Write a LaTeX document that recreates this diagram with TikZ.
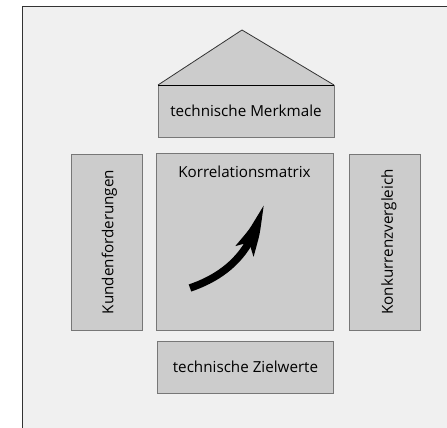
\documentclass[tikz,border=0pt]{standalone}
\usepackage{fontspec}
\setmainfont{Open Sans}
\usetikzlibrary{arrows.meta,bending,shapes.geometric}
\definecolor{panel}{HTML}{F0F0F0}
\definecolor{boxfill}{HTML}{CCCCCC}
\definecolor{boxline}{HTML}{777777}
\definecolor{frameline}{HTML}{333333}
\begin{document}
\begin{tikzpicture}[x=1pt,y=-1pt,
  label font/.style={font=\fontsize{15.2}{17}\selectfont},
  block/.style={draw=boxline,fill=boxfill,line width=0.9pt,inner sep=0pt,label font},
  wide/.style={block,minimum width=176pt,minimum height=52pt},
  tall/.style={block,minimum width=71pt,minimum height=176pt},
  vlabel/.style={rotate=90,label font}]
  \useasboundingbox (0,0) rectangle (447,428);
  % outer panel
  \fill[panel] (22.5,6.5) rectangle (447,428);
  \draw[frameline,line width=1.4pt] (22.5,428) -- (22.5,6.5) -- (447,6.5);

  % roof
  \coordinate (roofL) at (158,85);
  \coordinate (roofR) at (334,85);
  \coordinate (apex) at (242,30);
  \fill[boxfill] (roofL) -- (apex) -- (roofR) -- cycle;
  \draw[frameline,line width=0.8pt] (roofL) -- (apex) -- (roofR);

  % boxes
  \node[wide] (merkmale) at (246,111) {technische Merkmale};
  \draw[black,line width=1pt] (roofL) -- (roofR);
  \node[block,minimum width=177pt,minimum height=177pt] (matrix) at (244.5,241.5) {};
  \node[label font] (mtitle) at (matrix.north) [yshift=-19pt] {Korrelationsmatrix};
  \node[tall] (kunden) at (106.5,242) {};
  \node[vlabel] (kundentext) at (kunden.center) [yshift=-3pt] {Kundenforderungen};
  \node[tall] (konkurrenz) at (385,242) {};
  \node[vlabel] (konkurrenztext) at (konkurrenz.center) [yshift=-4pt] {Konkurrenzvergleich};
  \node[wide] (ziel) at (245.5,367) {technische Zielwerte};

  % correlation arrow
  \draw[line width=7.5pt,-{Stealth[length=56pt,width=20pt,inset=11pt,bend]}]
    (190,288) .. controls (225,276) and (255,252) .. (262,203);
\end{tikzpicture}
\end{document}
